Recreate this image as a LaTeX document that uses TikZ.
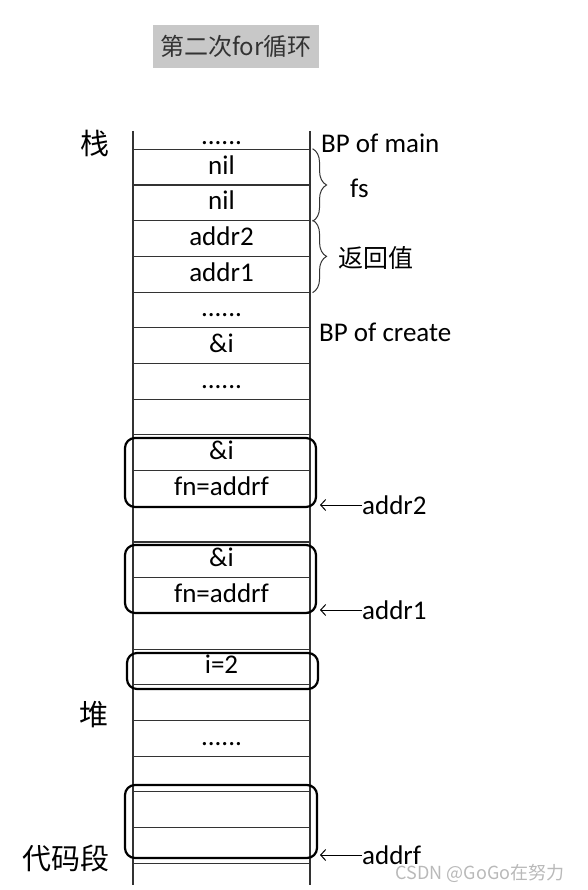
\documentclass[tikz,border=0pt]{standalone}
\usepackage{fontspec}
\setmainfont{Carlito}
\newfontfamily\cjk{Noto Sans CJK SC}
\usetikzlibrary{decorations.pathreplacing,arrows.meta}
\definecolor{titlegray}{HTML}{C8C8C8}
\definecolor{inkgray}{HTML}{333333}
\tikzset{
  cell/.style={draw=inkgray, line width=1.1pt, minimum width=177pt, minimum height=35.7pt,
    inner sep=0pt, text height=18pt, text depth=4pt, font=\fontsize{27}{27}\selectfont},
  hold/.style={draw=black, line width=2.2pt, rounded corners=10pt, inner sep=0pt},
  side/.style={anchor=west, inner sep=0pt, font=\fontsize{27}{27}\selectfont},
  zone/.style={inner sep=0pt, font=\cjk\fontsize{29}{29}\selectfont},
  ptr/.style={-{Straight Barb[length=5pt, width=11pt]}, line width=1pt},
  bracket/.style={decorate, decoration={brace, amplitude=14pt}, line width=1pt, inkgray}
}
\begin{document}
\begin{tikzpicture}[x=1pt, y=-1pt]
   \useasboundingbox (0,0) rectangle (587,890);
   % title
   \node [fill=titlegray, text=inkgray, minimum width=166pt, minimum height=43pt, inner sep=0pt,
      font=\cjk\fontsize{24}{24}\selectfont] (title) at (236,46.5) {第二次for循环};
   % the two side lines of the memory column
   \coordinate (topL) at (133,131);
   \coordinate (botL) at (133,885);
   \coordinate (topR) at (310,131);
   \coordinate (botR) at (310,885);
   \draw [inkgray, line width=1.1pt] (topL) -- (botL);
   \draw [inkgray, line width=1.1pt] (topR) -- (botR);
   % stack part
   \node [cell, draw=none] (c00) at (221.5,138) {......};
   \node [cell] (nilA) at (221.5,167.15) {nil};
   \node [cell] (nilB) at (221.5,202.85) {nil};
   \node [cell] (retA) at (221.5,238.55) {addr2};
   \node [cell] (retB) at (221.5,274.25) {addr1};
   \node [cell] (c04) at (221.5,309.95) {......};
   \node [cell] (c05) at (221.5,345.65) {\&i};
   \node [cell] (c06) at (221.5,381.35) {......};
   \node [cell] (c07) at (221.5,417.05) {};
   % heap part
   \node [cell] (c08) at (221.5,452.75) {\&i};
   \node [cell] (c09) at (221.5,488.45) {fn=addrf};
   \node [cell] (c10) at (221.5,524.15) {};
   \node [cell] (c11) at (221.5,559.85) {\&i};
   \node [cell] (c12) at (221.5,595.55) {fn=addrf};
   \node [cell] (c13) at (221.5,631.25) {};
   \node [cell] (c14) at (221.5,666.95) {i=2};
   \node [cell] (c15) at (221.5,702.65) {};
   \node [cell] (c16) at (221.5,738.35) {......};
   \node [cell] (c17) at (221.5,774.05) {};
   % code part
   \node [cell] (c18) at (221.5,809.75) {};
   \node [cell] (c19) at (221.5,845.45) {};
   % rounded frames
   \node [hold, minimum width=191pt, minimum height=69pt] (boxTwo) at (220.5,472.5) {};
   \node [hold, minimum width=191pt, minimum height=68pt] (boxOne) at (220.5,579) {};
   \node [hold, minimum width=191pt, minimum height=36pt] (boxI) at (222.5,671) {};
   \node [hold, minimum width=192pt, minimum height=73pt] (boxF) at (221,821.5) {};
   % labels on the right
   \node [side] (bpMain) at (321,143) {BP of main};
   \node [side] (bpCreate) at (319,332) {BP of create};
   \draw [bracket] ([xshift=2pt]nilA.north east) -- ([xshift=2pt]nilB.south east);
   \node [side] (fs) at (350,188) {fs};
   \draw [bracket] ([xshift=2pt]retA.north east) -- ([xshift=2pt]retB.south east);
   \node [zone, anchor=west, font=\cjk\fontsize{25}{25}\selectfont] (ret) at (338,258) {返回值};
   \node [side] (lTwo) at (362,505) {addr2};
   \node [side] (lOne) at (362,610) {addr1};
   \node [side] (lF) at (362,855) {addrf};
   \coordinate (pTwo) at (320,505);
   \coordinate (pOne) at (320,610);
   \coordinate (pF) at (320,855);
   \draw [ptr] (lTwo.west) -- (pTwo);
   \draw [ptr] (lOne.west) -- (pOne);
   \draw [ptr] (lF.west) -- (pF);
   % labels on the left
   \node [zone] (stack) at (95,143) {栈};
   \node [zone] (heap) at (94,715) {堆};
   \node [zone] (code) at (66,858) {代码段};
   \node [text=gray!55, inner sep=0pt, font=\cjk\fontsize{18}{18}\selectfont] (mark) at (480,873) {CSDN @GoGo在努力};
\end{tikzpicture}
\end{document}
